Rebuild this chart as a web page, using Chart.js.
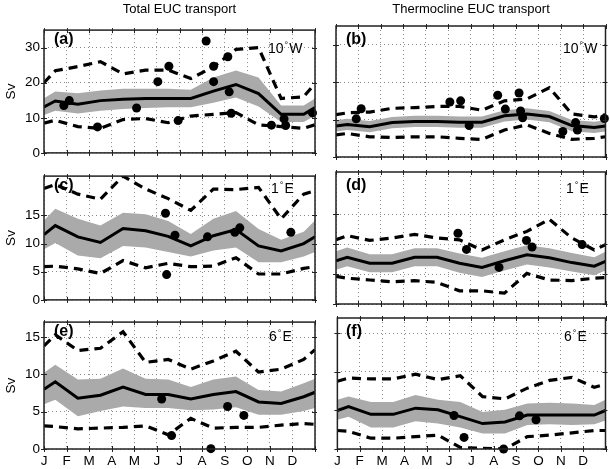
<!DOCTYPE html>
<html>
<head>
<meta charset="utf-8">
<script src="https://cdn.jsdelivr.net/npm/chart.js@4.4.1/dist/chart.umd.min.js"></script>
<style>
  body { margin: 0; background: #fff; }
  #fig { position: relative; width: 610px; height: 469px; overflow: hidden;
         font-family: "Liberation Sans", Arial, Helvetica, sans-serif; color: #000; }
  #fig canvas { position: absolute; }
  .title { position: absolute; top: 1px; font-size: 13px; line-height: 15px; transform: translateX(-50%); white-space: nowrap; }
  .tag { position: absolute; font-size: 16px; font-weight: bold; line-height: 16px; }
  .loc { position: absolute; font-size: 14px; line-height: 14px; white-space: nowrap; }
  .loc sup { font-size: 9px; vertical-align: 5px; margin: 0 1px 0 1px; }
</style>
</head>
<body>
<div id="fig"></div>
<script>
// month ticks and the x positions of the curves (mid-month, plus both year ends)
const months = ['J', 'F', 'M', 'A', 'M', 'J', 'J', 'A', 'S', 'O', 'N', 'D'];
const xPos = [0, 0.5, 1.5, 2.5, 3.5, 4.5, 5.5, 6.5, 7.5, 8.5, 9.5, 10.5, 11.5, 12];

// (a) total EUC, 10W
const meanA   = [13.1, 14.8, 13.9, 14.9, 15.3, 15.5, 15.5, 15.5, 17.6, 19.5, 16.9, 11, 11, 12.9];
const bandHiA = [15.6, 17.5, 17, 17.8, 18.3, 18.3, 18.3, 18, 21.5, 23.5, 21.5, 13.5, 13.5, 15.5];
const bandLoA = [10.8, 12, 11.2, 12, 12.5, 12.8, 13, 13, 14.3, 15.8, 13.2, 8.8, 8.8, 10.6];
const dashHiA = [20, 23.4, 24.6, 26, 22.5, 23.6, 23.6, 21.2, 24.5, 29.5, 30, 15.5, 16, 19.8];
const dashLoA = [8.5, 9.3, 7.5, 7, 9.5, 9.8, 8.6, 10.5, 11, 11.5, 8, 7.5, 7, 8];
const obsXA = [0.88, 1.12, 2.37, 4.1, 5.04, 5.53, 5.94, 7.18, 7.51, 7.51, 8.14, 8.2, 8.29, 10.07, 10.63, 10.7, 11.89];
const obsYA = [13.5, 14.9, 7.4, 12.8, 20.3, 24.7, 9.2, 31.9, 24.7, 20.3, 27.4, 17.4, 11.3, 7.9, 9.7, 7.8, 11.4];

// (b) thermocline EUC, 10W
const meanB   = [8.3, 8.7, 8.1, 9.2, 9.5, 9.5, 9.3, 9.3, 11, 11.5, 10.8, 8.4, 7.9, 8.3];
const bandHiB = [9.8, 10.2, 9.6, 10.7, 11, 11, 10.8, 10.8, 12.5, 13, 12.3, 9.9, 9.4, 9.8];
const bandLoB = [6.8, 7.2, 6.6, 7.7, 8, 8, 7.8, 7.8, 9.5, 10, 9.3, 6.9, 6.4, 6.8];
const dashHiB = [11.3, 11.8, 12, 13, 13.2, 13.5, 13.5, 12.5, 15, 15.5, 18.5, 11.5, 10.7, 11.3];
const dashLoB = [5.9, 6.3, 5.4, 5.2, 5.4, 5.4, 5, 4.7, 7.2, 8.6, 6.3, 4.7, 5, 5.4];
const obsXB = [0.9, 1.12, 5.07, 5.55, 5.93, 7.2, 7.54, 8.15, 8.22, 8.31, 10.1, 10.67, 10.75, 11.95];
const obsYB = [10.2, 12.9, 14.7, 15.0, 8.4, 16.5, 12.8, 17.1, 12.3, 10.5, 6.8, 9.2, 7.2, 10.3];

// (c) total EUC, 1E
const meanC   = [11.6, 13.2, 11.2, 10.2, 12.7, 12.3, 11.3, 9.6, 11.4, 12.5, 9.6, 8.7, 10, 11.2];
const bandHiC = [14.1, 16.2, 14.4, 13.2, 15.5, 15.2, 14, 11.7, 14.4, 15.8, 12.6, 10.7, 12.1, 14.1];
const bandLoC = [9, 10.1, 7.9, 7.4, 9.6, 9.3, 8.5, 7.7, 8.8, 9.3, 6.7, 6.7, 7.7, 8.5];
const dashHiC = [19.8, 20.5, 18.8, 17.9, 22, 19.7, 18, 15.9, 19.7, 19.6, 20, 14.4, 18.8, 19.4];
const dashLoC = [5.9, 6, 5.5, 4.7, 7, 5.7, 6.5, 5.9, 6, 7.5, 4.6, 4.6, 5.6, 5.9];
const obsXC = [5.38, 5.43, 5.8, 7.24, 8.45, 8.67, 10.93];
const obsYC = [15.4, 4.5, 11.5, 11.2, 12, 12.8, 12];

// (d) thermocline EUC, 1E
const meanD   = [7.2, 7.8, 6.8, 6.8, 7.8, 7.8, 6.8, 6.1, 7.2, 8.2, 7.7, 6.9, 6.3, 7.1];
const bandHiD = [8.8, 9.4, 8.3, 8.3, 9.3, 9.3, 8.4, 7.7, 8.8, 9.8, 9.3, 8.5, 7.8, 8.7];
const bandLoD = [5.7, 6.3, 5.3, 5.3, 6.3, 6.3, 5.2, 4.5, 5.6, 6.6, 6.1, 5.4, 4.8, 5.6];
const dashHiD = [10.7, 11.4, 10.6, 11, 11.6, 11, 10.7, 9, 10.7, 12.1, 14.1, 11, 9, 9.9];
const dashLoD = [4.6, 4.3, 4, 3.7, 3.9, 3.6, 2.2, 2.2, 1.8, 5.1, 4, 3.9, 4.3, 4.4];
const obsXD = [5.43, 5.81, 7.26, 8.48, 8.73, 10.96];
const obsYD = [11.8, 9.1, 6.1, 10.6, 9.5, 9.9];

// (e) total EUC, 6E
const meanE   = [8, 9, 6.8, 7.2, 8.3, 7.3, 7.3, 6.7, 7.3, 7.7, 6.3, 6.1, 7, 7.6];
const bandHiE = [10.2, 11.3, 9.3, 9.4, 10.8, 9.4, 9.3, 8.3, 9.3, 9.7, 7.9, 7.7, 8.8, 9.4];
const bandLoE = [6, 6.6, 4.4, 5.1, 5.7, 5.5, 5.5, 5.2, 5.3, 5.6, 4.6, 4.6, 5.1, 5.5];
const dashHiE = [13.8, 15.3, 13.2, 13.5, 15.7, 11.6, 12, 10.7, 11.8, 13.1, 10.3, 10.7, 12, 13.3];
const dashLoE = [3.1, 3, 2.7, 2.8, 2.9, 3.1, 1.9, 4.1, 2.8, 2.9, 2.9, 3.2, 3.4, 3.3];
const obsXE = [5.21, 5.65, 7.39, 8.13, 8.85];
const obsYE = [6.7, 1.8, 0.05, 5.7, 4.5];

// (f) thermocline EUC, 6E
const meanF   = [5, 5.5, 4.5, 4.5, 5.3, 5.1, 4.2, 3.3, 3.5, 4.4, 4.4, 4.4, 4.4, 5];
const bandHiF = [6.4, 6.8, 6.1, 6.1, 7, 6.4, 6.1, 4.8, 5.1, 5.9, 6, 5.9, 5.7, 6.4];
const bandLoF = [3.8, 4.2, 2.8, 2.8, 3.6, 3.3, 2.8, 2, 2, 3.1, 3.2, 3.1, 3.2, 3.7];
const dashHiF = [8.8, 9.2, 9.1, 9.1, 9.7, 9, 9.5, 6.8, 6.5, 7.9, 8.9, 9.3, 8, 8.4];
const dashLoF = [2.4, 2.3, 1.4, 1.4, 1.6, 1.8, 0.2, 0.1, 0, 1.6, 1.8, 2.1, 2.4, 2.4];
const obsXF = [5.22, 5.67, 7.44, 8.15, 8.89];
const obsYF = [4.35, 1.5, 0, 4.3, 3.8];

const colTitles = ['Total EUC transport', 'Thermocline EUC transport'];
const rowLocs = [['10', 'W'], ['1', 'E'], ['6', 'E']];
const yMaxes = [35, 22, 17];
const ySteps = [10, 5, 5];

const panels = [
  {tag: '(a)', row: 0, col: 0, mean: meanA, bandHi: bandHiA, bandLo: bandLoA, dashHi: dashHiA, dashLo: dashLoA, obsX: obsXA, obsY: obsYA},
  {tag: '(b)', row: 0, col: 1, mean: meanB, bandHi: bandHiB, bandLo: bandLoB, dashHi: dashHiB, dashLo: dashLoB, obsX: obsXB, obsY: obsYB},
  {tag: '(c)', row: 1, col: 0, mean: meanC, bandHi: bandHiC, bandLo: bandLoC, dashHi: dashHiC, dashLo: dashLoC, obsX: obsXC, obsY: obsYC},
  {tag: '(d)', row: 1, col: 1, mean: meanD, bandHi: bandHiD, bandLo: bandLoD, dashHi: dashHiD, dashLo: dashLoD, obsX: obsXD, obsY: obsYD},
  {tag: '(e)', row: 2, col: 0, mean: meanE, bandHi: bandHiE, bandLo: bandLoE, dashHi: dashHiE, dashLo: dashLoE, obsX: obsXE, obsY: obsYE},
  {tag: '(f)', row: 2, col: 1, mean: meanF, bandHi: bandHiF, bandLo: bandLoF, dashHi: dashHiF, dashLo: dashLoF, obsX: obsXF, obsY: obsYF}
];

// page layout (pixels)
const cols = [{left: 0, width: 320, axisW: 44, padR: 5, tagX: 54, locX: 268, mid: 179.5},
              {left: 330, width: 280, axisW: 6, padR: 4, tagX: 346, locX: 563, mid: 471}];
const rows = [{top: 18, height: 147, axisH: 8, tagY: 31, locY: 38, locDx: 0},
              {top: 164, height: 148, axisH: 8, tagY: 177, locY: 178, locDx: 3},
              {top: 310, height: 159, axisH: 20, tagY: 323, locY: 326, locDx: 1}];
const PAD_TOP = 8;
const FONT = '"Liberation Sans", Arial, Helvetica, sans-serif';

const fig = document.getElementById('fig');

// box around the plot plus the small MATLAB-style tick marks
const framePlugin = {
  id: 'frame',
  afterDatasetsDraw(chart) {
    const {ctx, chartArea: a, scales: {x, y}} = chart;
    ctx.save();
    ctx.strokeStyle = '#222';
    ctx.lineWidth = 1;
    ctx.beginPath();
    x.ticks.forEach(t => {
      const px = Math.round(x.getPixelForValue(t.value)) + 0.5;
      ctx.moveTo(px, a.bottom - 3); ctx.lineTo(px, a.bottom + 3);
      ctx.moveTo(px, a.top - 2); ctx.lineTo(px, a.top + 3);
    });
    y.ticks.forEach(t => {
      const py = Math.round(y.getPixelForValue(t.value)) + 0.5;
      ctx.moveTo(a.left - 3, py); ctx.lineTo(a.left + 3, py);
      ctx.moveTo(a.right - 3, py); ctx.lineTo(a.right + 2, py);
    });
    ctx.stroke();
    ctx.lineWidth = 1.5;
    ctx.strokeRect(a.left, a.top, a.right - a.left, a.bottom - a.top);
    ctx.restore();
  }
};

function pts(ys) {
  return xPos.map((x, i) => ({x: x, y: ys[i]}));
}

panels.forEach(p => {
  const c = cols[p.col], r = rows[p.row];
  const canvas = document.createElement('canvas');
  canvas.width = c.width;
  canvas.height = r.height;
  canvas.style.left = c.left + 'px';
  canvas.style.top = r.top + 'px';
  fig.appendChild(canvas);

  const yStep = ySteps[p.row];
  const isLeft = p.col === 0;
  const isBottom = p.row === 2;

  new Chart(canvas, {
    type: 'line',
    data: {
      datasets: [{
        data: pts(p.bandHi),
        borderColor: 'rgba(0,0,0,0)', pointRadius: 0,
        backgroundColor: '#aaaaaa', fill: 1, order: 5
      }, {
        data: pts(p.bandLo),
        borderColor: 'rgba(0,0,0,0)', pointRadius: 0, fill: false, order: 5
      }, {
        data: pts(p.dashHi),
        borderColor: '#000', borderWidth: 3.2, borderDash: [9, 6], pointRadius: 0, fill: false, order: 3
      }, {
        data: pts(p.dashLo),
        borderColor: '#000', borderWidth: 3.2, borderDash: [9, 6], pointRadius: 0, fill: false, order: 3
      }, {
        data: pts(p.mean),
        borderColor: '#000', borderWidth: 3, pointRadius: 0, fill: false, order: 1
      }, {
        data: p.obsX.map((x, i) => ({x: x, y: p.obsY[i]})),
        showLine: false, pointRadius: 4.5, pointBackgroundColor: '#000', pointBorderWidth: 0,
        fill: false, order: 0, clip: 6
      }]
    },
    options: {
      responsive: false,
      animation: false,
      events: [],
      layout: {padding: {top: PAD_TOP, right: c.padR, left: 0, bottom: 0}},
      plugins: {legend: {display: false}, tooltip: {enabled: false}},
      scales: {
        x: {
          type: 'linear', min: 0, max: 12,
          afterFit(s) { s.height = r.axisH; },
          grid: {color: '#8a8a8a', lineWidth: 1, drawTicks: false},
          border: {display: false, dash: [1, 3]},
          ticks: {
            display: isBottom, stepSize: 1, autoSkip: false, maxRotation: 0, padding: 4,
            color: '#000', font: {family: FONT, size: 13.5},
            callback: v => months[v] || ''
          }
        },
        y: {
          type: 'linear', min: 0, max: yMaxes[p.row],
          afterBuildTicks(s) { s.ticks = s.ticks.filter(t => t.value % yStep === 0); },
          afterFit(s) { s.width = c.axisW; },
          grid: {color: '#8a8a8a', lineWidth: 1, drawTicks: false},
          border: {display: false, dash: [1, 3]},
          ticks: {
            display: isLeft, stepSize: yStep, padding: 4,
            color: '#000', font: {family: FONT, size: 13.5}
          },
          title: {
            display: isLeft, text: 'Sv', color: '#000',
            font: {family: FONT, size: 13.5}, padding: {top: 3, bottom: 0}
          }
        }
      }
    },
    plugins: [framePlugin]
  });

  const tag = document.createElement('div');
  tag.className = 'tag';
  tag.textContent = p.tag;
  tag.style.left = c.tagX + 'px';
  tag.style.top = r.tagY + 'px';
  fig.appendChild(tag);

  const loc = document.createElement('div');
  loc.className = 'loc';
  loc.innerHTML = rowLocs[p.row][0] + '<sup>°</sup>' + rowLocs[p.row][1];
  loc.style.left = (c.locX + r.locDx) + 'px';
  loc.style.top = r.locY + 'px';
  fig.appendChild(loc);
});

colTitles.forEach((t, i) => {
  const d = document.createElement('div');
  d.className = 'title';
  d.textContent = t;
  d.style.left = cols[i].mid + 'px';
  fig.appendChild(d);
});
</script>
</body>
</html>
